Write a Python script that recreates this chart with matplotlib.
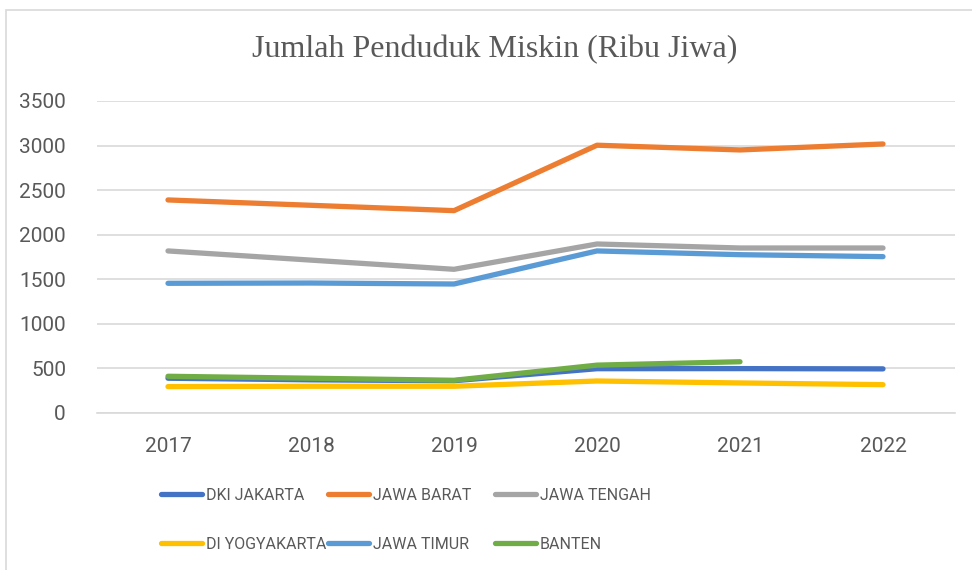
import matplotlib.pyplot as plt
from matplotlib.patches import Rectangle

# --- DATA (ribu jiwa) ---
years = ['2017', '2018', '2019', '2020', '2021', '2022']
dki_jakarta = [390, 372, 362, 497, 498, 495]
jawa_barat = [2390, 2330, 2270, 3004, 2951, 3018]
jawa_tengah = [1818, 1715, 1612, 1896, 1851, 1851]
di_yogyakarta = [296, 300, 300, 359, 337, 318]
jawa_timur = [1455, 1458, 1447, 1818, 1776, 1754]
banten = [412, 390, 367, 537, 575]

series = [
    ('DKI JAKARTA', dki_jakarta, '#4472C4'),
    ('JAWA BARAT', jawa_barat, '#ED7D31'),
    ('JAWA TENGAH', jawa_tengah, '#A5A5A5'),
    ('DI YOGYAKARTA', di_yogyakarta, '#FFC000'),
    ('JAWA TIMUR', jawa_timur, '#5B9BD5'),
    ('BANTEN', banten, '#70AD47'),
]

txt_col = '#595959'
grid_col = '#D9D9D9'

fig = plt.figure(figsize=(9.72, 5.7), dpi=100)
ax = fig.add_axes([96.5 / 972, 1 - 413 / 570, (954.5 - 96.5) / 972, (413 - 101) / 570])

# border of the chart area
fig.patches.append(Rectangle((6 / 972, -0.05), 1.1, 1 - 10 / 570 + 0.05,
                             transform=fig.transFigure, fill=False,
                             edgecolor=grid_col, linewidth=1.2))

lines = {}
for name, vals, col in series:
    ln, = ax.plot(range(len(vals)), vals, color=col, linewidth=3.8,
                  solid_capstyle='round', solid_joinstyle='round', label=name)
    lines[name] = ln

ax.set_xlim(-0.5, 5.5)
ax.set_ylim(0, 3500)
ax.set_yticks(range(0, 3501, 500))
ax.set_xticks(range(len(years)))
ax.set_xticklabels(years)
ax.yaxis.grid(True, color=grid_col, linewidth=1.2)
ax.set_axisbelow(True)
for s in ['top', 'right', 'left']:
    ax.spines[s].set_visible(False)
ax.spines['bottom'].set_color(grid_col)
ax.spines['bottom'].set_linewidth(1.2)
ax.tick_params(length=0, labelcolor=txt_col, labelsize=15)
for lab in ax.get_xticklabels() + ax.get_yticklabels():
    lab.set_family(['Roboto', 'DejaVu Sans'])
ax.tick_params(axis='y', pad=22)
ax.tick_params(axis='x', pad=17)

fig.text(495 / 972, 1 - 50 / 570, 'Jumlah Penduduk Miskin (Ribu Jiwa)',
         ha='center', va='center', fontsize=23, color=txt_col,
         family=['Liberation Serif', 'DejaVu Serif'])

# legend: three fixed-width columns, one small legend each
columns = [['DKI JAKARTA', 'DI YOGYAKARTA'],
           ['JAWA BARAT', 'JAWA TIMUR'],
           ['JAWA TENGAH', 'BANTEN']]
col_x = [161, 328, 495]
for names, x in zip(columns, col_x):
    leg = fig.legend([lines[n] for n in names], names, loc='upper left',
                     bbox_to_anchor=(x / 972, 1 - 488 / 570), frameon=False,
                     borderpad=0, borderaxespad=0, handlelength=2.55,
                     handletextpad=0.25, labelspacing=2.1,
                     prop={'family': ['Roboto', 'DejaVu Sans'], 'size': 11.5})
    for t in leg.get_texts():
        t.set_color(txt_col)

fig.savefig('out.png', dpi=100)
